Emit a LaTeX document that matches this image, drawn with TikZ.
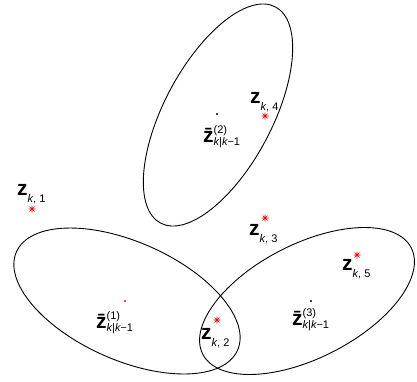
\documentclass[tikz,border=0pt]{standalone}
\usepackage{fontspec}
\setmainfont{Liberation Sans}

% 観測ラベル z_{k,n}
\newcommand{\zmeas}[1]{{\fontsize{21}{21}\selectfont\bfseries z}\raisebox{-7pt}{\fontsize{11}{11}\selectfont\itshape k\upshape, #1}}
% 予測ラベル \bar z^{(i)}_{k|k-1}
\newcommand{\zpred}[1]{{\fontsize{21}{21}\selectfont\bfseries\=z}\raisebox{-3.5pt}{\vbox{\fontsize{11}{12.5}\selectfont
    \hbox{(#1)}\hbox{\itshape k\upshape|\itshape k\upshape−1}}}}

\tikzset{
  gate/.style={line width=0.9pt},
  lab/.style={inner sep=0pt, anchor=base west},
  ast/.pic={\draw[red, line width=0.6pt] (-3.5,0) -- (3.5,0) (0,-3.5) -- (0,3.5)
    (-2.5,-2.5) -- (2.5,2.5) (-2.5,2.5) -- (2.5,-2.5);}
}

\begin{document}
\begin{tikzpicture}[x=1pt, y=-1pt]
    \useasboundingbox (0,0) rectangle (417,381);

    % ゲート楕円
    \draw[gate, rotate around={-24:(127,301)}] (127,301) ellipse [x radius=121pt, y radius=59pt];
    \draw[gate, rotate around={62:(218,115)}] (218,115) ellipse [x radius=122.4pt, y radius=54pt];
    \draw[gate, rotate around={27:(307,301)}] (307,301) ellipse [x radius=117pt, y radius=57pt];

    % 予測中心
    \fill[red] (125,301) circle (1.1pt) coordinate (c1);
    \fill (217,114) circle (1.1pt) coordinate (c2);
    \fill (311,301) circle (1.1pt) coordinate (c3);
    \node[lab] (p1) at (96,328) {\zpred{1}};
    \node[lab] (p2) at (203,142) {\zpred{2}};
    \node[lab] (p3) at (292,325) {\zpred{3}};

    % 観測点
    \pic at (32,209) {ast};
    \pic at (217,320) {ast};
    \pic at (265,218) {ast};
    \pic at (265,116) {ast};
    \pic at (357,255) {ast};
    \node[lab] (m1) at (17,195) {\zmeas{1}};
    \node[lab] (m2) at (201,339) {\zmeas{2}};
    \node[lab] (m3) at (249,235) {\zmeas{3}};
    \node[lab] (m4) at (250,103) {\zmeas{4}};
    \node[lab] (m5) at (342,270) {\zmeas{5}};
\end{tikzpicture}
\end{document}
